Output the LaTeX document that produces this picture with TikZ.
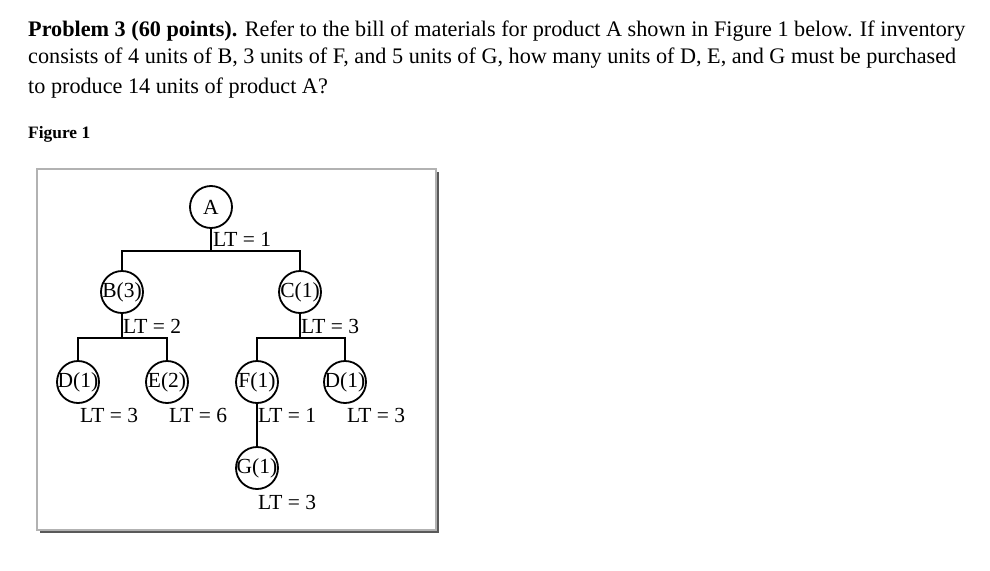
\documentclass[tikz,border=0pt]{standalone}
\usepackage{fontspec}
\setmainfont{Liberation Serif}
\begin{document}
\begin{tikzpicture}[x=1pt,y=-1pt,
  part/.style={circle,draw,line width=1.8pt,minimum size=42pt,inner sep=0pt},
  ptxt/.style={font=\fontsize{21.5}{21.5}\selectfont,inner sep=0pt},
  lt/.style={font=\fontsize{21.5}{21.5}\selectfont,inner sep=0pt,anchor=west},
  link/.style={line width=2.8pt},
  body/.style={font=\fontsize{22.2}{22.2}\selectfont,inner sep=0pt,anchor=base west}]
\useasboundingbox (0,0) rectangle (990,570);
\node[body] (l1) at (28,36) {\textbf{Problem 3 (60 points).} Refer to the bill of materials for product A shown in Figure 1 below. If inventory};
\node[body] (l2) at (28,63) {consists of 4 units of B, 3 units of F, and 5 units of G, how many units of D, E, and G must be purchased};
\node[body] (l3) at (28,93) {to produce 14 units of product A?};
\node[body,font=\fontsize{17.4}{17.4}\selectfont\bfseries] (fig) at (28,138) {Figure 1};
% frame
\fill[gray!70!black] (40,172) rectangle (439,533);
\draw[gray!60,line width=2pt,fill=white] (37,169) rectangle (436,530);
% circles
\node[part] (A) at (211,207) {};
\node[part] (B) at (122,292) {};
\node[part] (C) at (300,292) {};
\node[part] (D1) at (78,382) {};
\node[part] (E) at (167,382) {};
\node[part] (F) at (257,382) {};
\node[part] (D2) at (345,382) {};
\node[part] (G) at (257,468) {};
\node[ptxt] at (A) {A};
\node[ptxt] at (B) {B(3)};
\node[ptxt] at (C) {C(1)};
\node[ptxt] at (D1) {D(1)};
\node[ptxt] at (E) {E(2)};
\node[ptxt] at (F) {F(1)};
\node[ptxt] at (D2) {D(1)};
\node[ptxt] at (G) {G(1)};
% links
\coordinate (ja) at (211,251);
\coordinate (jb) at (122,338);
\coordinate (jc) at (300,338);
\draw[link] (A.south) -- (ja);
\draw[link] (B.north) |- (ja) -| (C.north);
\draw[link] (B.south) -- (jb);
\draw[link] (D1.north) |- (jb) -| (E.north);
\draw[link] (C.south) -- (jc);
\draw[link] (F.north) |- (jc) -| (D2.north);
\draw[link] (F.south) -- (G.north);
% labels
\node[lt] at (213,239) {LT = 1};
\node[lt] at (123,326) {LT = 2};
\node[lt] at (301,326) {LT = 3};
\node[lt] at (80,415) {LT = 3};
\node[lt] at (169,415) {LT = 6};
\node[lt] at (258,415) {LT = 1};
\node[lt] at (347,415) {LT = 3};
\node[lt] at (258,502) {LT = 3};
\end{tikzpicture}
\end{document}
